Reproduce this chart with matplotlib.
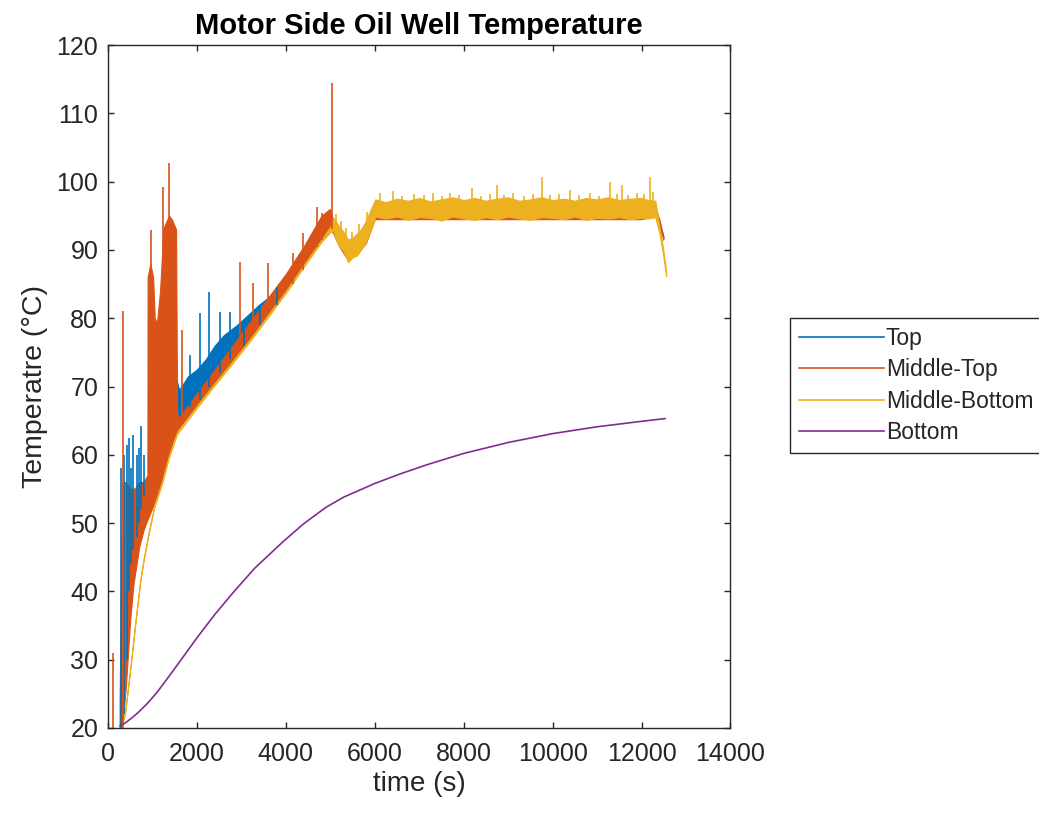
import matplotlib
matplotlib.use("Agg")
import matplotlib.pyplot as plt
from matplotlib.lines import Line2D

# colours (MATLAB default order)
C_TOP = "#0072BD"
C_MT = "#D95319"
C_MB = "#EDB120"
C_BOT = "#7E2F8E"
INK = "#262626"

# ---- Top sensor: noisy band + spikes ----
top_t = [270, 330, 400, 500, 600, 700, 800, 870, 900, 1200, 1500, 1600, 1800, 2000,
         2200, 2400, 2600, 2900, 3200, 3400, 3600, 3900, 4200, 4600, 5000, 5100, 5400,
         5700, 6000, 7000, 8000, 9000, 10000, 11000, 12000, 12300, 12490]
top_lo = [20, 22, 30, 38, 44, 49, 52, 54, 55, 60, 63, 64.5, 66, 67.5,
          69.5, 71.5, 73.2, 75.5, 78, 79.5, 81.2, 84, 86.5, 89.5, 93, 92.5, 89.5,
          91.5, 95, 95, 95, 95, 95, 95, 95, 95.3, 91.8]
top_hi = [21, 40, 50, 53, 55, 56, 56, 56, 57, 70, 72, 69.5, 71.5, 72.5,
          74, 76, 77.5, 79, 80.8, 82, 83, 85, 87, 90, 93.5, 93, 91,
          93, 96.5, 96.5, 96.5, 96.5, 96.5, 96.5, 96.5, 96.5, 92]
top_spike_t = [300, 360, 420, 460, 520, 570, 640, 700, 740, 800, 1845, 2070, 2270,
               2520, 2745, 3050, 3420, 3800]
top_spike_lo = [20, 22, 30, 40, 44, 46, 48, 50, 52, 54, 67, 68, 70, 72, 74, 76, 79, 82]
top_spike_hi = [58, 60, 61.5, 62.5, 58, 62.9, 60, 61, 64.2, 60, 74.6, 80.7, 83.8,
                80.9, 80.9, 79.5, 81.5, 84.5]

# ---- Middle-Top sensor ----
mt_t = [260, 320, 400, 500, 570, 700, 800, 885, 890, 950, 1013, 1050, 1100, 1170,
        1220, 1238, 1300, 1373, 1440, 1530, 1553, 1600, 2000, 2400, 2800, 3200, 3600,
        4000, 4400, 4800, 4990, 5060, 5200, 5400, 5600, 5800, 6000, 7000, 8000, 9000,
        10000, 11000, 12000, 12300, 12400, 12490]
mt_lo = [20, 20.5, 26, 36, 41, 46.5, 49, 50.5, 50.5, 51.5, 52.5, 53.2, 54, 55.5,
         56.5, 57, 58.5, 60, 61.5, 63, 63.5, 64, 67.2, 70.5, 73.7, 77, 80.5,
         84, 87.8, 91.5, 93, 92.5, 90.5, 88.5, 89.5, 91, 94.5, 94.5, 94.5, 94.5,
         94.5, 94.5, 94.5, 95, 93.5, 91.5]
mt_hi = [24, 56, 56, 55, 55, 55.5, 56, 57, 86, 88, 86, 80, 79.3, 84,
         90, 93, 94, 95, 94.4, 93, 66, 65.5, 69, 72.5, 76, 79.5, 83,
         86.5, 90.5, 95, 96, 94.5, 92.5, 91, 92, 93.5, 96.5, 96.3, 96.4, 96.3,
         96.4, 96.3, 96.4, 96.3, 94.5, 92]
mt_spike_t = [112, 338, 968, 1238, 1360, 1665, 2970, 3260, 3600, 4160, 4390, 4700,
              4815, 5040]
mt_spike_lo = [20, 20, 60, 70, 75, 64.5, 75.5, 78, 81, 85, 87, 90.5, 91.5, 93]
mt_spike_hi = [31, 81, 92.9, 99.2, 102.7, 78.3, 88.2, 85.2, 88.1, 89.5, 92.5, 96.3,
               95.4, 114.4]

# ---- Middle-Bottom sensor ----
mb_t = [300, 380, 500, 600, 720, 800, 900, 1040, 1215, 1370, 1550, 2000, 2400, 2800,
        3200, 3600, 4000, 4400, 4800, 5000, 5060, 5140, 5220, 5300, 5400, 5500, 5600,
        5700, 5780, 5860, 5940, 6010,
        6250, 6500, 6750, 7000, 7250, 7500, 7750, 8000, 8250, 8500, 8750, 9000, 9250,
        9500, 9750, 10000, 10250, 10500, 10750, 11000, 11250, 11500, 11750, 12000,
        12150, 12310, 12400, 12480, 12555]
mb_lo = [20, 22, 28.5, 34.5, 41.2, 44.5, 48, 52.3, 55.8, 59.6, 63, 66.9, 70.2, 73.4,
         76.7, 80.2, 83.7, 87.5, 91.2, 92.6, 92.9, 91.3, 90.4, 89.8, 88.2, 88.9, 89.2,
         90.1, 90.9, 92.2, 93.3, 94.9,
         94.6, 94.9, 94.4, 94.8, 94.7, 94.3, 94.9, 94.6, 94.4, 94.8, 94.5, 94.9, 94.6,
         94.4, 94.8, 94.7, 94.5, 94.9, 94.4, 94.7, 94.6, 94.8, 94.5, 94.7,
         94.6, 94.8, 92.5, 89.5, 86.2]
mb_hi = [20.3, 22.3, 28.8, 34.8, 41.5, 44.8, 48.3, 52.6, 56.1, 59.9, 63.3, 67.2, 70.5,
         73.7, 77.0, 80.5, 84.0, 87.8, 91.5, 93.4, 94.8, 94.0, 93.3, 92.6, 91.5, 91.8,
         92.3, 93.1, 93.9, 95.2, 96.4, 97.4,
         97.0, 97.5, 97.2, 97.6, 97.1, 97.4, 97.7, 97.3, 97.6, 97.2, 97.5, 97.7, 97.2,
         97.4, 97.7, 97.3, 97.5, 97.2, 97.6, 97.4, 97.7, 97.3, 97.5, 97.6,
         97.3, 97.2, 93.5, 90.5, 86.8]
mb_spike_t = [5120, 5250, 5360, 5480, 5650, 5820, 6120, 6400, 6620, 6880, 7100, 7300,
              7520, 7700, 7900, 8180, 8380, 8600, 8745, 8900, 9100, 9350, 9550, 9760,
              9950, 10150, 10400, 10600, 10850, 11050, 11295, 11450, 11560, 11700,
              11900, 12050, 12180, 12260]
mb_spike_lo = [93, 92, 91, 91, 92, 93.5, 96.5, 96.5, 96.5, 96.5, 96.5, 96.5, 96.5,
               96.5, 96.5, 96.5, 96.5, 96.5, 96.5, 96.5, 96.5, 96.5, 96.5, 96.5,
               96.5, 96.5, 96.5, 96.5, 96.5, 96.5, 96.5, 96.5, 96.5, 96.5, 96.5,
               96.5, 96.5, 96.5]
mb_spike_hi = [95.2, 94.3, 93.2, 92.6, 93.8, 95.6, 98.3, 98.6, 97.9, 98.2, 98.0, 98.4,
               97.9, 98.3, 98.1, 99.1, 97.9, 98.2, 99.5, 98.0, 98.3, 97.9, 98.2, 100.7,
               98.0, 98.2, 98.8, 98.0, 98.3, 97.9, 100.0, 98.2, 99.5, 98.1, 98.4,
               98.2, 100.7, 98.5]

# ---- Bottom sensor: smooth ----
bot_t = [270, 400, 560, 700, 900, 1100, 1330, 1600, 2000, 2400, 2810, 3300, 3940,
         4400, 4900, 5300, 5510, 6000, 6570, 7200, 8000, 9000, 10000, 11000, 12000,
         12530]
bot_y = [20.3, 20.8, 21.6, 22.4, 23.7, 25.2, 27.2, 29.6, 33.2, 36.6, 39.8, 43.4,
         47.3, 49.9, 52.3, 53.8, 54.4, 55.8, 57.2, 58.6, 60.2, 61.8, 63.1, 64.1,
         64.9, 65.3]

plt.rcParams["font.family"] = ["Liberation Sans", "DejaVu Sans"]

fig = plt.figure(figsize=(10.39, 8.13), dpi=100)
ax = fig.add_axes([0.104, 0.1046, 0.599, 0.840])


def noisy(t, lo, hi, st, slo, shi, color):
    ax.fill_between(t, lo, hi, color=color, lw=0.8)
    ax.vlines(st, slo, shi, color=color, lw=1.2)


noisy(top_t, top_lo, top_hi, top_spike_t, top_spike_lo, top_spike_hi, C_TOP)
noisy(mt_t, mt_lo, mt_hi, mt_spike_t, mt_spike_lo, mt_spike_hi, C_MT)
noisy(mb_t, mb_lo, mb_hi, mb_spike_t, mb_spike_lo, mb_spike_hi, C_MB)
ax.plot(bot_t, bot_y, color=C_BOT, lw=1.2)

ax.set_xlim(0, 14000)
ax.set_ylim(20, 120)
ax.set_xticks(range(0, 14001, 2000))
ax.set_yticks(range(20, 121, 10))
ax.tick_params(direction="in", length=4, width=1, colors=INK, labelsize=18,
               top=True, right=True)
ax.tick_params(axis="x", pad=10)
ax.tick_params(axis="y", pad=7)
for s in ax.spines.values():
    s.set_color(INK)
    s.set_linewidth(1)

ax.set_title("Motor Side Oil Well Temperature", fontsize=21, fontweight="bold",
             color="black", pad=8)
ax.set_xlabel("time (s)", fontsize=20, color=INK, labelpad=4)
ax.set_ylabel("Temperatre (°C)", fontsize=20.5, color=INK, labelpad=6)

handles = [Line2D([], [], color=c, lw=1.2) for c in (C_TOP, C_MT, C_MB, C_BOT)]
leg = fig.legend(handles, ["Top", "Middle-Top", "Middle-Bottom", "Bottom"],
                 loc="upper left", bbox_to_anchor=(0.760, 0.609), fontsize=16.5,
                 frameon=True, fancybox=False, edgecolor=INK, framealpha=1,
                 handlelength=3.7, handletextpad=0.1, labelspacing=0.36,
                 borderpad=0.4, borderaxespad=0)
leg.get_frame().set_linewidth(1)
for txt in leg.get_texts():
    txt.set_color(INK)

fig.savefig("out.png", dpi=100)
